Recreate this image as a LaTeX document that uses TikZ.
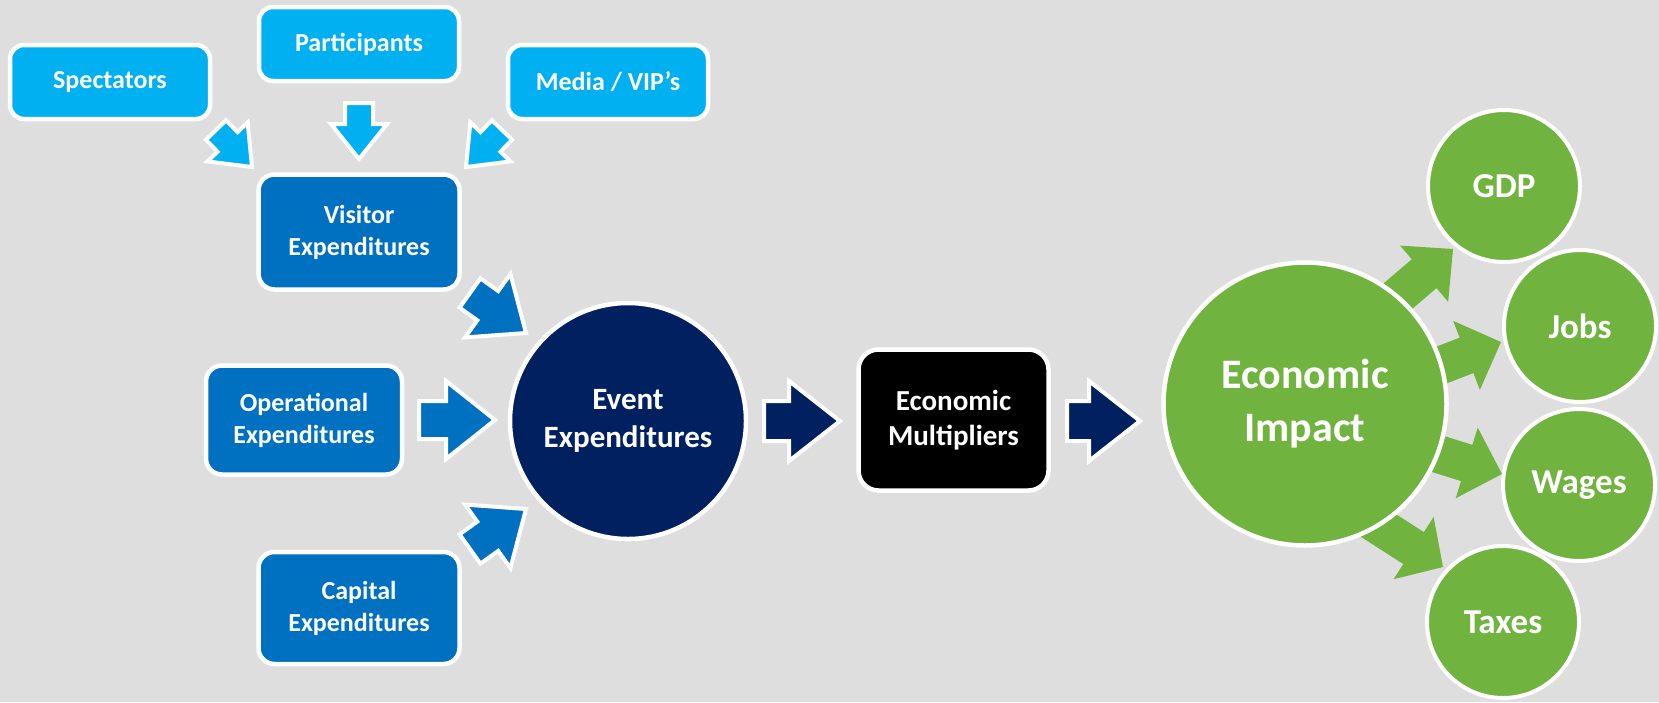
\documentclass[tikz,border=0pt]{standalone}
\usepackage{fontspec}
\setmainfont{Carlito}
\usetikzlibrary{calc}
\definecolor{bgc}{HTML}{DEDEDE}
\definecolor{lblue}{HTML}{00B0F0}
\definecolor{mblue}{HTML}{0070C0}
\definecolor{navy}{HTML}{002060}
\definecolor{grn}{HTML}{70B33F}
% block arrow: #1 tail, #2 tip, #3 shaft half width, #4 head half width, #5 head length, #6 style
\newcommand\blockarr[6]{%
  \coordinate (bn) at ($(#2)!#5!(#1)$);
  \path[#6] ($(#1)!#3!90:(#2)$) -- ($(bn)!#3!-90:(#1)$) -- ($(bn)!#4!-90:(#1)$) -- (#2)
    -- ($(bn)!#4!90:(#1)$) -- ($(bn)!#3!90:(#1)$) -- ($(#1)!#3!-90:(#2)$) -- cycle;
}
\begin{document}
\begin{tikzpicture}[x=1pt,y=-1pt,
  txt/.style={text=white, align=center, inner sep=0pt},
  lbox/.style={txt, fill=lblue, draw=white, line width=4.5pt, rounded corners=14pt,
    minimum width=200pt, minimum height=74pt, font=\bfseries\fontsize{26}{32}\selectfont},
  mbox/.style={txt, fill=mblue, draw=white, line width=4.5pt, rounded corners=16pt,
    minimum width=201pt, minimum height=112pt, font=\bfseries\fontsize{26}{32}\selectfont},
  kbox/.style={txt, fill=black, draw=white, line width=4.5pt, rounded corners=20pt,
    minimum width=190pt, minimum height=141pt, font=\bfseries\fontsize{29}{35}\selectfont},
  ncirc/.style={txt, circle, fill=navy, draw=white, line width=4.5pt,
    minimum size=236pt, font=\bfseries\fontsize{31}{38}\selectfont},
  bigg/.style={txt, circle, fill=grn, draw=white, line width=4.5pt,
    minimum size=283pt, font=\bfseries\fontsize{42}{53}\selectfont},
  smallg/.style={txt, circle, fill=grn, draw=white, line width=4pt,
    minimum size=152pt, font=\bfseries\fontsize{35}{42}\selectfont},
  larr/.style={fill=lblue, draw=white, line width=4pt, line join=miter},
  marr/.style={fill=mblue, draw=white, line width=4pt, line join=miter},
  narr/.style={fill=navy, draw=white, line width=4pt, line join=miter},
  garr/.style={fill=grn},
]
\fill[bgc] (0,0) rectangle (1659,702);
\useasboundingbox (0,0) rectangle (1659,702);

% top boxes
\node[lbox] (spec) at (110,82) {Spectators};
\node[lbox] (part) at (359,44) {Participants};
\node[lbox] (media) at (608,82) {Media / VIP’s};

% blue boxes
\node[mbox, minimum height=115pt] (visit) at (359,232) {Visitor\\Expenditures};
\node[mbox, minimum width=196pt, minimum height=109pt] (oper) at (304,420) {Operational\\Expenditures};
\node[mbox] (capital) at (359,608) {Capital\\Expenditures};

% event circle
\node[ncirc] (event) at (628,421) {Event\\Expenditures};

% multipliers
\node[kbox] (multi) at (953.5,420) {Economic\\Multipliers};

% arrows into visitor
\coordinate (a1t) at (216,130); \coordinate (a1h) at (252,167);
\coordinate (a2t) at (359,103); \coordinate (a2h) at (359,159);
\coordinate (a3t) at (502,130); \coordinate (a3h) at (466,167);
\blockarr{a1t}{a1h}{14pt}{28pt}{35pt}{larr}
\blockarr{a2t}{a2h}{14pt}{28pt}{35pt}{larr}
\blockarr{a3t}{a3h}{14pt}{28pt}{35pt}{larr}

% arrows into event
\coordinate (b1t) at (470,293); \coordinate (b1h) at (526,333);
\coordinate (b2t) at (419,420); \coordinate (b2h) at (495,420);
\coordinate (b3t) at (470,549); \coordinate (b3h) at (526,509);
\blockarr{b1t}{b1h}{18pt}{39pt}{47pt}{marr}
\blockarr{b2t}{b2h}{19pt}{39pt}{49pt}{marr}
\blockarr{b3t}{b3h}{18pt}{39pt}{47pt}{marr}

% navy arrows
\coordinate (c1t) at (764,421); \coordinate (c1h) at (840,421);
\coordinate (c2t) at (1067,421); \coordinate (c2h) at (1140,421);
\blockarr{c1t}{c1h}{20pt}{40pt}{51pt}{narr}
\blockarr{c2t}{c2h}{20pt}{40pt}{51pt}{narr}

% green arrows (behind circles)
\coordinate (g1t) at (1377,314); \coordinate (g1h) at (1453,249);
\coordinate (g2t) at (1408,378); \coordinate (g2h) at (1501,342);
\coordinate (g3t) at (1406,444); \coordinate (g3h) at (1502,474);
\coordinate (g4t) at (1359,513); \coordinate (g4h) at (1443,567);
\blockarr{g1t}{g1h}{19pt}{37pt}{38pt}{garr}
\blockarr{g2t}{g2h}{19pt}{37pt}{37pt}{garr}
\blockarr{g3t}{g3h}{19pt}{37pt}{37pt}{garr}
\blockarr{g4t}{g4h}{19pt}{37pt}{35pt}{garr}

% economic impact
\node[bigg] (impact) at (1305,404) {Economic\\Impact};
\node[smallg] (gdp) at (1504,186) {GDP};
\node[smallg] (jobs) at (1580,326) {Jobs};
\node[smallg] (wages) at (1579,485) {Wages};
\node[smallg] (taxes) at (1503,622) {Taxes};
\end{tikzpicture}
\end{document}
